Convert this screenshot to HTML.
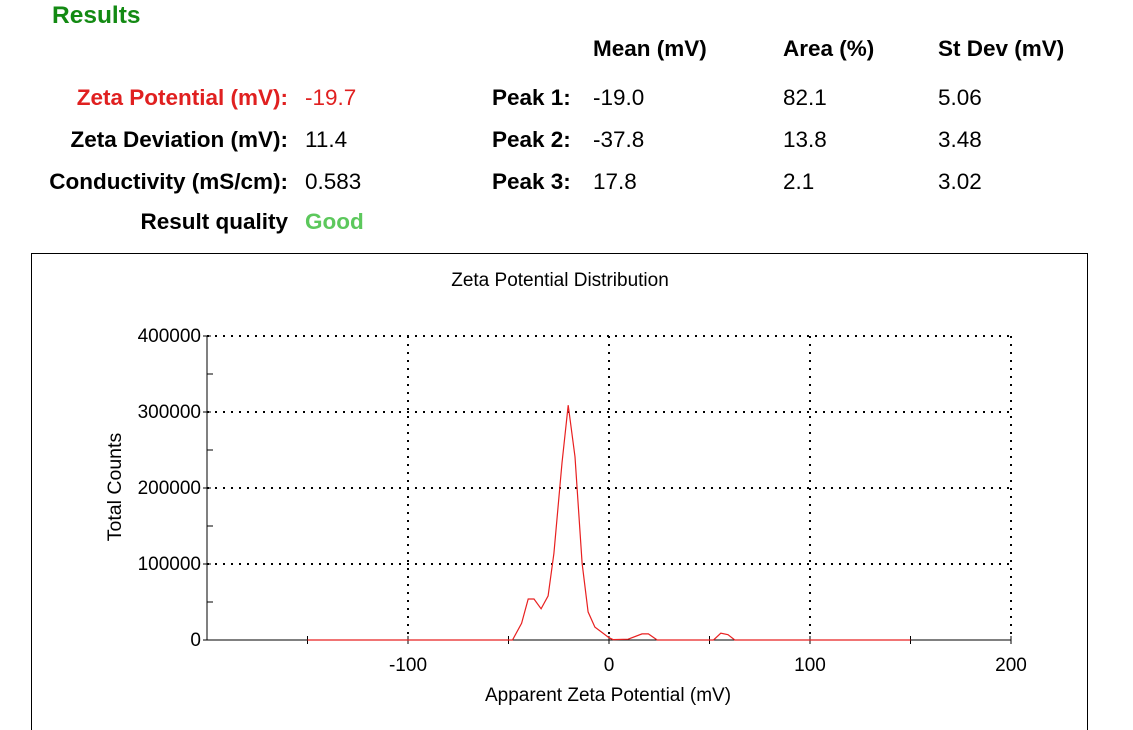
<!DOCTYPE html>
<html><head><meta charset="utf-8"><style>
body{margin:0;width:1133px;height:730px;overflow:hidden;background:#fff;font-family:"Liberation Sans",Arial,sans-serif;position:relative}
.t{position:absolute;font-size:22.5px;white-space:nowrap;color:#000;line-height:24px}
.b{font-weight:bold}
.r{text-align:right}
</style></head><body>
<div class="t b" style="left:52px;top:4px;color:#138a13;font-size:24.5px">Results</div>
<div class="t b" style="left:593px;top:37px">Mean (mV)</div>
<div class="t b" style="left:783px;top:37px">Area (%)</div>
<div class="t b" style="left:938px;top:37px">St Dev (mV)</div>

<div class="t b r" style="right:845px;top:86px;color:#e02020">Zeta Potential (mV):</div>
<div class="t" style="left:305px;top:86px;color:#e02020">-19.7</div>
<div class="t b r" style="right:845px;top:128px">Zeta Deviation (mV):</div>
<div class="t" style="left:305px;top:128px">11.4</div>
<div class="t b r" style="right:845px;top:170px">Conductivity (mS/cm):</div>
<div class="t" style="left:305px;top:170px">0.583</div>
<div class="t b r" style="right:845px;top:210px">Result quality</div>
<div class="t b" style="left:305px;top:210px;color:#5cc85c">Good</div>

<div class="t b" style="left:492px;top:86px">Peak 1:</div>
<div class="t" style="left:593px;top:86px">-19.0</div>
<div class="t" style="left:783px;top:86px">82.1</div>
<div class="t" style="left:938px;top:86px">5.06</div>
<div class="t b" style="left:492px;top:128px">Peak 2:</div>
<div class="t" style="left:593px;top:128px">-37.8</div>
<div class="t" style="left:783px;top:128px">13.8</div>
<div class="t" style="left:938px;top:128px">3.48</div>
<div class="t b" style="left:492px;top:170px">Peak 3:</div>
<div class="t" style="left:593px;top:170px">17.8</div>
<div class="t" style="left:783px;top:170px">2.1</div>
<div class="t" style="left:938px;top:170px">3.02</div>

<svg id="chart" width="1133" height="730" style="position:absolute;left:0;top:0" font-family="Liberation Sans, Arial, sans-serif"></svg>
<script>
const xTicks=[-100,0,100,200];
const yTicks=[0,100000,200000,300000,400000];
const xs=[-150,-48,-43.5,-40.2,-37.3,-33.8,-30.3,-27.4,-23.4,-20.3,-16.9,-13.4,-10.4,-7,0,2,9.5,16.4,19.6,24,52,55.6,59.2,62.6,150];
const ys=[0,0,22000,54000,54000,41000,58000,114000,233000,309000,241000,101000,37000,17000,3000,500,1000,8000,8000,0,0,9000,7000,0,0];
const NS="http://www.w3.org/2000/svg";
const svg=document.getElementById('chart');
const X=v=>609+(v)*2.01;
const Y=v=>640-v*0.00076;
function mk(t,a){const e=document.createElementNS(NS,t);for(const k in a)e.setAttribute(k,a[k]);svg.appendChild(e);return e;}
let e=mk('rect',{x:31.5,y:253.5,width:1056,height:500,fill:'none',stroke:'#000'});


e=mk('text',{x:560,y:286,'text-anchor':'middle','font-size':19});e.textContent='Zeta Potential Distribution';


const x0=X(-200),x1=X(200);
yTicks.forEach(v=>{
  if(v>0){const g=mk('line',{x1:x0,x2:x1,y1:Y(v),y2:Y(v),stroke:'#000','stroke-width':2,'stroke-dasharray':'2 6'});
  
  }
  const t=mk('text',{x:x0-6,y:Y(v)+6,'text-anchor':'end','font-size':19});t.textContent=v;
  
  
  mk('line',{x1:x0-4,x2:x0+4,y1:Y(v),y2:Y(v),stroke:'#000'});
  if(v<400000)mk('line',{x1:x0,x2:x0+6,y1:Y(v+50000),y2:Y(v+50000),stroke:'#000'});
});
xTicks.forEach(v=>{
  const g=mk('line',{x1:X(v),x2:X(v),y1:Y(400000),y2:Y(0),stroke:'#000','stroke-width':2,'stroke-dasharray':'2 6'});
  
  
  const t=mk('text',{x:X(v),y:671,'text-anchor':'middle','font-size':19});t.textContent=v;
  
  
  mk('line',{x1:X(v),x2:X(v),y1:Y(0)-4,y2:Y(0)+4,stroke:'#000'});
  mk('line',{x1:X(v-50),x2:X(v-50),y1:Y(0)-4,y2:Y(0)+4,stroke:'#000'});
});
mk('line',{x1:x0,x2:x0,y1:Y(400000),y2:Y(0),stroke:'#000'});
mk('line',{x1:x0,x2:x1,y1:Y(0),y2:Y(0),stroke:'#000'});
e=mk('text',{x:608,y:701,'text-anchor':'middle','font-size':19});e.textContent='Apparent Zeta Potential (mV)';


e=mk('text',{x:0,y:0,'text-anchor':'middle','font-size':19.5,transform:'translate(121,487) rotate(-90)'});e.textContent='Total Counts';


const pts=xs.map((v,i)=>X(v).toFixed(1)+','+Y(ys[i]).toFixed(1)).join(' ');
e=mk('polyline',{points:pts,fill:'none',stroke:'#e82020','stroke-width':1.2});


</script>
</body></html>
